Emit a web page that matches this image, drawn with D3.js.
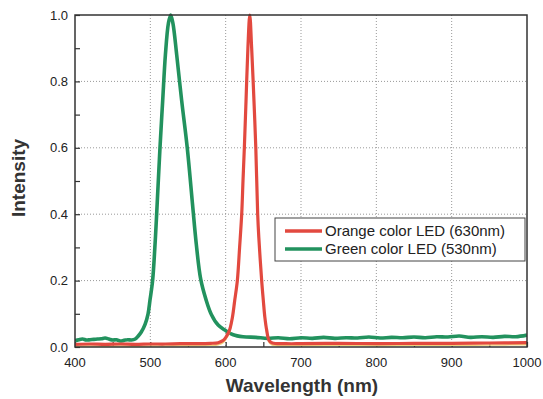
<!DOCTYPE html>
<html><head><meta charset="utf-8">
<script src="https://cdn.jsdelivr.net/npm/d3@7"></script>
<style>body{margin:0;background:#fff}svg{display:block}</style>
</head><body>
<svg id="c" width="543" height="399"></svg>
<script>
const xTicks = [400,500,600,700,800,900,1000];
const yTicks = [0,0.2,0.4,0.6,0.8,1.0];
const seriesNames = ["Orange color LED (630nm)", "Green color LED (530nm)"];
const seriesColors = ["#e2493f", "#22925e"];
const orangeWl = [400,420,440,460,480,500,520,540,560,580,590,597,601,605,609,612,615.5,618.5,621.3,623,624.8,627,629.5,632,634.5,637.6,640,642.5,644,647.8,650,652,654.5,657.6,662,680,700,750,800,850,900,950,1000];
const orangeVal = [0.008,0.009,0.008,0.009,0.008,0.009,0.009,0.010,0.010,0.011,0.013,0.02,0.032,0.05,0.09,0.14,0.2,0.3,0.4,0.5,0.6,0.74,0.9,1.0,0.9,0.74,0.6,0.4,0.33,0.2,0.14,0.09,0.05,0.02,0.012,0.010,0.010,0.011,0.010,0.011,0.011,0.012,0.013];
const greenWl = [400,405,410,415,420,425,430,435,440,445,450,455,460,465,470,475,480,484,488,493,497,499.6,503,506,508.4,512.8,516.4,520,524,527,530,535,541.6,549,556,561,566.8,574,581,590,599,610,623,640,656,670,685,700,715,730,745,760,775,790,805,820,835,850,865,880,895,910,925,940,955,970,985,1000];
const greenVal = [0.019,0.022,0.024,0.021,0.022,0.023,0.024,0.025,0.027,0.024,0.021,0.022,0.018,0.02,0.022,0.021,0.024,0.033,0.045,0.068,0.1,0.142,0.2,0.3,0.4,0.6,0.742,0.88,0.975,1.0,0.975,0.88,0.742,0.6,0.43,0.31,0.205,0.142,0.098,0.066,0.051,0.037,0.031,0.029,0.026,0.028,0.025,0.028,0.026,0.029,0.026,0.028,0.027,0.03,0.027,0.029,0.028,0.03,0.028,0.031,0.03,0.033,0.029,0.031,0.029,0.032,0.031,0.036];

const svg = d3.select("#c");
const L = 75, R = 527, T = 15, B = 347;
const x = d3.scaleLinear().domain([400,1000]).range([L,R]);
const y = d3.scaleLinear().domain([0,1]).range([B,T]);
const font = "'Liberation Sans', Arial, sans-serif";

// grid
const g = svg.append("g");
g.selectAll(".gx").data(xTicks.slice(1,-1)).join("line")
  .attr("x1",d=>x(d)).attr("x2",d=>x(d)).attr("y1",T).attr("y2",B)
  .attr("stroke","#999").attr("stroke-width",1).attr("stroke-dasharray","1,2");
g.selectAll(".gy").data(yTicks.slice(1,-1)).join("line")
  .attr("y1",d=>y(d)).attr("y2",d=>y(d)).attr("x1",L).attr("x2",R)
  .attr("stroke","#999").attr("stroke-width",1).attr("stroke-dasharray","1,2");

// axes with inward ticks
const xAxis = d3.axisBottom(x).tickValues(d3.range(400,1001,50)).tickSize(-5).tickFormat("");
const yAxis = d3.axisLeft(y).tickValues(d3.range(0,1.001,0.1)).tickSize(-5).tickFormat("");
const gx = svg.append("g").attr("transform",`translate(0,${B})`).call(xAxis);
const gy = svg.append("g").attr("transform",`translate(${L},0)`).call(yAxis);
[gx,gy].forEach(a=>{a.select(".domain").remove();a.selectAll("line").attr("stroke","#333").attr("stroke-width",1.2);});

// tick labels
svg.selectAll(".xl").data(xTicks).join("text")
  .attr("x",d=>x(d)).attr("y",362).attr("dy","0.35em").attr("text-anchor","middle")
  .attr("font-family",font).attr("font-size",13).attr("fill","#222").text(d=>d);
svg.selectAll(".yl").data(yTicks).join("text")
  .attr("x",68).attr("y",d=>y(d)).attr("dy","0.35em").attr("text-anchor","end")
  .attr("font-family",font).attr("font-size",13).attr("fill","#222").text(d=>d.toFixed(1));

// lines
const line = d3.line().curve(d3.curveCatmullRom.alpha(0.5));
svg.append("clipPath").attr("id","clp").append("rect").attr("x",L).attr("y",T-3).attr("width",R-L).attr("height",B-T+3);
const plot = svg.append("g").attr("clip-path","url(#clp)");
plot.append("path").attr("d",line(greenWl.map((w,i)=>[x(w),y(greenVal[i])])))
  .attr("fill","none").attr("stroke",seriesColors[1]).attr("stroke-width",3.6).attr("stroke-linejoin","round");
plot.append("path").attr("d",line(orangeWl.map((w,i)=>[x(w),y(orangeVal[i])+2])))
  .attr("fill","none").attr("stroke","#f2d27a").attr("stroke-width",1.5);
plot.append("path").attr("d",line(orangeWl.map((w,i)=>[x(w),y(orangeVal[i])])))
  .attr("fill","none").attr("stroke",seriesColors[0]).attr("stroke-width",3.2).attr("stroke-linejoin","round");

// frame
svg.append("rect").attr("x",L).attr("y",T).attr("width",R-L).attr("height",B-T)
  .attr("fill","none").attr("stroke","#333").attr("stroke-width",1.5);

// legend
const lg = svg.append("g");
lg.append("rect").attr("x",275).attr("y",218).attr("width",250).attr("height",43)
  .attr("fill","#fff").attr("stroke","#444").attr("stroke-width",1);
seriesNames.forEach((n,i)=>{
  const cy = 231 + i*18;
  lg.append("line").attr("x1",285).attr("x2",322).attr("y1",cy).attr("y2",cy)
    .attr("stroke",seriesColors[i]).attr("stroke-width",3.5);
  lg.append("text").attr("x",325).attr("y",cy).attr("dy","0.35em")
    .attr("font-family",font).attr("font-size",15).attr("fill","#222").text(n);
});

// axis titles
svg.append("text").attr("x",302).attr("y",385).attr("dy","0.35em").attr("text-anchor","middle")
  .attr("font-family",font).attr("font-weight","bold").attr("font-size",19).attr("fill","#333")
  .text("Wavelength (nm)");
svg.append("text").attr("transform","translate(18,178) rotate(-90)").attr("dy","0.35em").attr("text-anchor","middle")
  .attr("font-family",font).attr("font-weight","bold").attr("font-size",19).attr("fill","#333")
  .text("Intensity");
</script>
</body></html>
